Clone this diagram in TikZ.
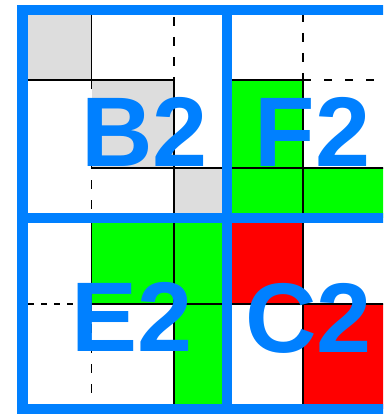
\documentclass[tikz,border=0pt]{standalone}
\usepackage{fontspec}
\setmainfont{Liberation Sans}
\definecolor{myblue}{RGB}{0,128,255}
\definecolor{mygreen}{RGB}{0,255,0}
\definecolor{myred}{RGB}{255,0,0}
\definecolor{mygray}{RGB}{221,221,221}
\begin{document}
\begin{tikzpicture}[x=1pt,y=-1pt,
  gridline/.style={black,line width=1.3pt},
  dgrid/.style={gridline,dash pattern=on 9pt off 11pt},
  dgridshort/.style={gridline,dash pattern=on 6pt off 7pt},
  frame/.style={myblue,line width=10.8pt},
  lbl/.style={text=myblue,font=\fontsize{99}{99}\selectfont\bfseries,inner sep=0pt,anchor=base west}]
\useasboundingbox (0,0) rectangle (383,414);
\clip (0,0) rectangle (383,414);
% fills
\fill[mygray] (22,10) rectangle (91.7,80);
\fill[mygray] (91.7,80) rectangle (174,168);
\fill[mygray] (174,168) rectangle (227,218);
\fill[mygreen] (227,80) rectangle (303,218);
\fill[mygreen] (303,168) rectangle (400,218);
\fill[mygreen] (91.7,218) rectangle (174,304);
\fill[mygreen] (174,218) rectangle (227,409);
\fill[myred] (227,218) rectangle (303,304);
\fill[myred] (303,304) rectangle (400,409);
% B2 lines
\draw[gridline] (91.7,10) -- (91.7,80);
\draw[gridline] (22,80) -- (174,80) -- (174,218);
\draw[gridline] (91.7,168) -- (227,168);
\draw[dgrid] (174,17) -- (174,80);
\draw[dgrid] (91.7,80) -- (91.7,218);
% F2 lines
\draw[gridline] (227,80) -- (303,80) -- (303,218);
\draw[dgrid] (303,13) -- (303,80);
\draw[gridline,dash pattern=on 8pt off 13pt] (303,80) -- (400,80);
\draw[gridline] (227,168) -- (400,168);
% E2 lines
\draw[gridline] (91.7,218) -- (91.7,304);
\draw[dgrid] (91.7,304) -- (91.7,409);
\draw[gridline] (174,218) -- (174,409);
\draw[dgridshort] (28,304) -- (91.7,304);
\draw[gridline] (91.7,304) -- (227,304);
% C2 lines
\draw[gridline] (303,218) -- (303,409);
\draw[gridline] (227,304) -- (400,304);
% labels
\node[lbl] (b2) at (81,166) {B2};
\node[lbl] (f2) at (254.5,166) {F2};
\node[lbl] (e2) at (70.8,351) {E2};
\node[lbl] (c2) at (245,352) {C2};
% blue frame
\draw[frame] (22.5,10) rectangle (440,409);
\draw[frame] (227,10) -- (227,409);
\draw[frame] (22.5,218) -- (440,218);
\end{tikzpicture}
\end{document}
